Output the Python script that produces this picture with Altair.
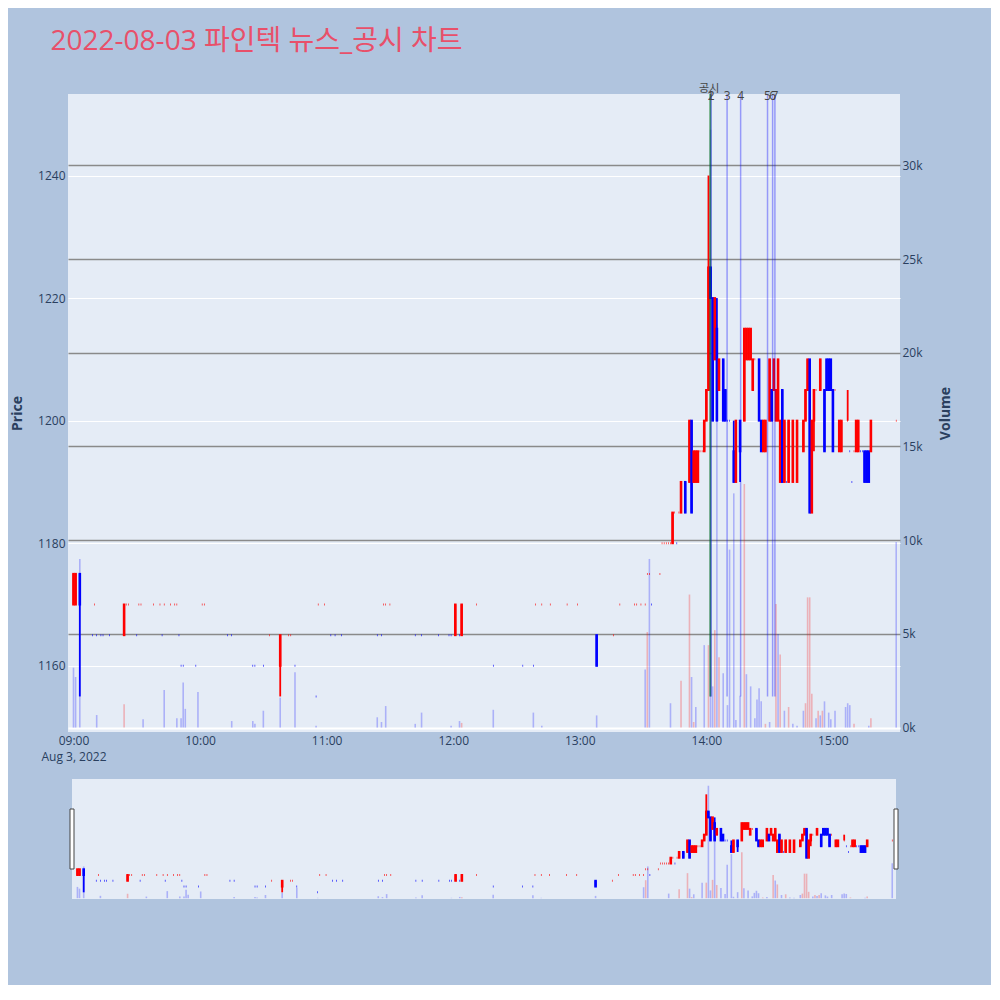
import altair as alt
import pandas as pd

DAY = "2022-08-03"

# ---------------- candles (1-minute) ----------------
c_time = ["09:00","09:01","09:03","09:09","09:10","09:11","09:13","09:14","09:17","09:24",
          "09:25","09:26","09:30","09:31","09:32","09:38","09:41","09:42","09:43","09:46",
          "09:48","09:49","09:50","09:51","09:52","09:58","10:01","10:02","10:13","10:15",
          "10:25","10:26","10:30","10:33","10:38","10:42","10:43","10:45","10:55","10:56",
          "10:59","11:02","11:04","11:07","11:24","11:26","11:27","11:28","11:30","11:42",
          "11:45","11:53","11:58","11:59","12:01","12:03","12:04","12:11","12:19","12:33",
          "12:38","12:39","12:42","12:46","12:54","12:59","13:08","13:16","13:19","13:26",
          "13:27","13:29","13:31","13:32","13:33","13:34","13:38","13:39","13:40","13:41",
          "13:42","13:43","13:44","13:45","13:46","13:47","13:48","13:50","13:52","13:53",
          "13:54","13:55","13:56","13:57","13:58","13:59","14:00","14:01","14:02","14:03",
          "14:04","14:05","14:06","14:08","14:09","14:10","14:11","14:13","14:14","14:16",
          "14:18","14:19","14:20","14:21","14:22","14:23","14:25","14:26","14:27","14:28",
          "14:30","14:31","14:32","14:33","14:34","14:35","14:36","14:37","14:38","14:39",
          "14:41","14:43","14:46","14:47","14:48","14:49","14:50","14:51","14:52","14:54",
          "14:56","14:57","14:58","14:59","15:00","15:01","15:03","15:04","15:07","15:08",
          "15:09","15:10","15:11","15:12","15:13","15:14","15:15","15:16","15:17","15:18",
          "15:30"]
c_open = [1170,1170,1175,1165,1170,1165,1165,1165,1165,1165,
          1170,1170,1165,1170,1170,1170,1170,1165,1170,1170,
          1170,1170,1165,1160,1160,1160,1170,1170,1165,1165,
          1160,1160,1160,1165,1160,1165,1165,1160,1155,1170,
          1170,1165,1165,1165,1165,1165,1170,1170,1170,1165,
          1165,1165,1165,1165,1165,1165,1165,1170,1160,1160,
          1160,1170,1170,1170,1170,1170,1165,1165,1170,1170,
          1170,1170,1170,1175,1175,1170,1175,1180,1180,1180,
          1180,1180,1180,1185,1180,1185,1185,1190,1190,1200,
          1190,1190,1190,1195,1195,1195,1200,1205,1225,1220,
          1210,1215,1205,1210,1205,1200,1200,1195,1190,1200,
          1200,1210,1210,1210,1205,1210,1210,1200,1195,1195,
          1200,1205,1205,1200,1200,1190,1205,1190,1190,1190,
          1190,1190,1195,1200,1205,1210,1185,1200,1205,1205,
          1205,1210,1210,1210,1205,1205,1195,1195,1200,1195,
          1190,1195,1195,1195,1195,1195,1195,1195,1195,1195,
          1200]
c_high = [1175,1175,1175,1165,1170,1165,1165,1165,1165,1170,
          1170,1170,1165,1170,1170,1170,1170,1165,1170,1170,
          1170,1170,1165,1160,1160,1160,1170,1170,1165,1165,
          1160,1160,1160,1165,1165,1165,1165,1160,1155,1170,
          1170,1165,1165,1165,1165,1165,1170,1170,1170,1165,
          1165,1165,1165,1165,1170,1165,1170,1170,1160,1160,
          1160,1170,1170,1170,1170,1170,1165,1165,1170,1170,
          1170,1170,1170,1175,1175,1170,1175,1180,1180,1180,
          1180,1180,1185,1185,1180,1185,1190,1190,1200,1200,
          1195,1195,1195,1195,1195,1200,1205,1240,1225,1220,
          1220,1220,1210,1210,1205,1200,1200,1200,1200,1200,
          1215,1215,1215,1215,1210,1210,1210,1200,1200,1200,
          1210,1205,1210,1205,1210,1200,1205,1200,1190,1200,
          1200,1200,1200,1205,1210,1210,1200,1205,1205,1210,
          1205,1210,1210,1210,1205,1205,1200,1200,1205,1195,
          1190,1195,1200,1200,1195,1195,1195,1195,1195,1200,
          1200]
c_low = [1170,1170,1155,1165,1170,1165,1165,1165,1165,1165,
         1170,1170,1165,1170,1170,1170,1170,1165,1170,1170,
         1170,1170,1165,1160,1160,1160,1170,1170,1165,1165,
         1160,1160,1160,1165,1155,1165,1165,1160,1155,1170,
         1170,1165,1165,1165,1165,1165,1170,1170,1170,1165,
         1165,1165,1165,1165,1165,1165,1165,1170,1160,1160,
         1160,1170,1170,1170,1170,1170,1160,1165,1170,1170,
         1170,1170,1170,1175,1175,1170,1175,1180,1180,1180,
         1180,1180,1180,1185,1180,1185,1185,1185,1190,1185,
         1190,1190,1190,1195,1195,1195,1200,1205,1220,1200,
         1210,1200,1205,1200,1200,1200,1200,1190,1190,1190,
         1200,1210,1210,1210,1205,1210,1200,1195,1195,1195,
         1200,1200,1205,1200,1200,1190,1190,1190,1190,1190,
         1190,1190,1195,1200,1205,1185,1185,1195,1205,1205,
         1195,1205,1205,1205,1195,1205,1195,1195,1200,1195,
         1190,1195,1195,1195,1195,1195,1190,1190,1190,1195,
         1200]
c_close = [1175,1175,1170,1165,1170,1165,1165,1165,1165,1170,
           1170,1170,1165,1170,1170,1170,1170,1165,1170,1170,
           1170,1170,1165,1160,1160,1160,1170,1170,1165,1165,
           1160,1160,1160,1165,1165,1165,1165,1160,1155,1170,
           1170,1165,1165,1165,1165,1165,1170,1170,1170,1165,
           1165,1165,1165,1165,1170,1165,1170,1170,1160,1160,
           1160,1170,1170,1170,1170,1170,1160,1165,1170,1170,
           1170,1170,1170,1175,1175,1170,1175,1180,1180,1180,
           1180,1180,1185,1185,1180,1185,1190,1185,1200,1185,
           1195,1195,1195,1195,1195,1200,1205,1225,1220,1200,
           1220,1200,1210,1200,1200,1200,1200,1190,1200,1195,
           1215,1215,1215,1215,1210,1210,1200,1195,1200,1200,
           1210,1200,1210,1205,1210,1200,1190,1200,1190,1200,
           1200,1200,1200,1205,1210,1185,1200,1205,1205,1210,
           1195,1205,1205,1205,1195,1205,1200,1200,1200,1195,
           1190,1195,1200,1200,1195,1195,1190,1190,1190,1200,
           1200]

# ---------------- volume ----------------
v_time = ["09:00","09:01","09:03","09:11","09:24","09:33","09:43","09:49","09:51","09:52",
          "09:53","09:59","10:15","10:25","10:26","10:30","10:38","10:45","10:55","11:24",
          "11:26","11:28","11:42","11:45","11:59","12:03","12:04","12:19","12:38","12:42",
          "13:08","13:31","13:32","13:33","13:43","13:48","13:52","13:53","13:54","13:55",
          "13:59","14:01","14:02","14:03","14:04","14:05","14:06","14:08","14:10","14:11",
          "14:13","14:14","14:16","14:18","14:19","14:21","14:23","14:24","14:25","14:26",
          "14:28","14:30","14:33","14:34","14:35","14:37","14:39","14:41","14:43","14:46",
          "14:47","14:48","14:49","14:50","14:52","14:53","14:54","14:55","14:56","14:58",
          "14:59","15:01","15:06","15:07","15:08","15:10","15:17","15:18","15:30"]
v_vol = [3200,2700,9000,670,1250,450,2000,500,500,2400,
         1000,1900,350,350,200,900,1600,2950,100,550,
         300,1150,200,800,100,350,250,950,800,100,
         650,3100,5100,9000,1300,2500,7100,2700,300,1100,
         4400,4400,31900,2200,5200,21500,3750,2900,1200,9500,
         12500,400,1700,13000,2850,2200,500,1500,2100,1400,
         200,300,6600,5000,3900,900,1100,200,100,900,
         1300,6950,6950,1800,500,900,650,900,1400,800,
         450,900,1100,1300,1200,200,100,500,9900]
v_side = ["b","b","b","b","r","b","b","b","b","b",
          "b","b","b","b","b","b","b","b","b","b",
          "b","b","b","b","b","b","r","b","b","b",
          "b","b","r","b","b","r","r","b","r","b",
          "b","r","b","b","r","b","r","b","b","b",
          "b","b","b","r","b","b","b","b","b","b",
          "r","b","r","b","r","b","r","b","b","b",
          "r","r","r","r","b","r","b","r","b","b",
          "b","b","b","b","b","r","b","r","b"]

# ---------------- news / disclosure markers ----------------
news_time = ["14:02:00","14:02:15","14:09:50","14:16:15","14:29:00","14:31:25","14:32:30"]
news_label = ["1","2","3","4","5","6","7"]
disc_time = ["14:01:50"]
disc_label = ["공시"]

price_ticks = [1160, 1180, 1200, 1220, 1240]
vol_ticks = [0, 5000, 10000, 15000, 20000, 25000, 30000]


def ts(t):
    if len(t) == 5:
        t = t + ":00"
    return f"{DAY}T{t}"


# plotly-style increasing/decreasing direction
dirs = []
prev_c = None
inc = True
for o, c in zip(c_open, c_close):
    if c > o:
        inc = True
    elif c < o:
        inc = False
    elif prev_c is not None and c != prev_c:
        inc = c > prev_c
    prev_c = c
    dirs.append("up" if inc else "down")

candles = pd.DataFrame({"t": [ts(x) for x in c_time], "o": c_open, "h": c_high,
                        "l": c_low, "c": c_close, "d": dirs})
volume = pd.DataFrame({"t": [ts(x) for x in v_time], "v": v_vol, "s": v_side})
news = pd.DataFrame({"t": [ts(x) for x in news_time], "lab": news_label})
disc = pd.DataFrame({"t": [ts(x) for x in disc_time], "lab": disc_label})

W, H = 832, 638
SH = 120
X0 = alt.DateTime(year=2022, month=8, date=3, hours=8, minutes=57, seconds=24)
X1 = alt.DateTime(year=2022, month=8, date=3, hours=15, minutes=31, seconds=48)
P_DOM = [1149.2, 1253.3]
V_DOM = [-235, 33810]
LOW_MIN = min(c_low)

dir_scale = alt.Scale(domain=["up", "down"], range=["#ff0000", "#0000ff"])
side_scale = alt.Scale(domain=["r", "b"], range=["#ff0000", "#0000ff"])

hours = [alt.DateTime(year=2022, month=8, date=3, hours=h) for h in range(9, 16)]
x_axis = alt.Axis(values=hours, grid=False, labelPadding=3, labelLineHeight=16,
                  labelExpr="hours(datum.value) == 9 ? ['09:00', 'Aug 3, 2022'] : timeFormat(datum.value, '%H:%M')",
                  title=None, labelOverlap=False, labelFlush=False)
price_axis = alt.Axis(values=price_ticks, format="d", grid=True, gridColor="#ffffff", gridWidth=1,
                      title="Price", titleFontWeight="bold", titleFontSize=14,
                      labelPadding=3, titlePadding=13)
vol_axis = alt.Axis(orient="right", values=vol_ticks, format="~s", grid=True,
                    gridColor=alt.condition("datum.value == 0", alt.value("#ffffff"), alt.value("#8a8a8a")),
                    gridWidth=alt.condition("datum.value == 0", alt.value(2), alt.value(1.3)),
                    title="Volume", titleFontWeight="bold", titleFontSize=14, titleAngle=270,
                    labelPadding=2, titlePadding=30)


def xenc(main=True):
    if main:
        return alt.X("t:T", scale=alt.Scale(domain=[X0, X1], padding=0), axis=x_axis)
    return alt.X("t:T", scale=alt.Scale(domain=[X0, X1], range=[4, W - 4], padding=0), axis=None)


def pscale():
    return alt.Scale(domain=P_DOM, nice=False, zero=False, padding=0)


def price_y(field, axis):
    return alt.Y(field, scale=pscale(), axis=axis)


def build(main=True):
    pa = price_axis if main else None
    va = vol_axis if main else None
    vol = alt.Chart(volume).mark_bar(size=1.6, opacity=0.25).encode(
        x=xenc(main),
        y=alt.Y("v:Q", scale=alt.Scale(domain=V_DOM, nice=False, zero=False, padding=0), axis=va),
        y2=alt.datum(0),
        color=alt.Color("s:N", scale=side_scale, legend=None),
    )
    wick = alt.Chart(candles).mark_rule(strokeWidth=1.8).encode(
        x=xenc(main), y=price_y("l:Q", pa), y2="h:Q",
        color=alt.Color("d:N", scale=dir_scale, legend=None),
    )
    body = alt.Chart(candles).mark_bar(size=0.6, strokeWidth=2).encode(
        x=xenc(main), y=price_y("o:Q", pa), y2="c:Q",
        fill=alt.Fill("d:N", scale=dir_scale, legend=None),
        stroke=alt.Stroke("d:N", scale=dir_scale, legend=None),
    )
    price_layers = [wick, body]
    if main:
        nl = alt.Chart(news).mark_rule(strokeWidth=1.5, color="#0000ff", opacity=0.35).encode(
            x=xenc(main),
            y=alt.Y(datum=LOW_MIN, scale=pscale(), axis=pa),
            y2=alt.value(0),
        )
        dl = alt.Chart(disc).mark_rule(strokeWidth=2, color="#008000", opacity=0.5).encode(
            x=xenc(main),
            y=alt.Y(datum=LOW_MIN, scale=pscale(), axis=pa),
            y2=alt.value(0),
        )
        nt = alt.Chart(news).mark_text(fontSize=12, font="Open Sans", color="#444444",
                                       baseline="middle").encode(
            x=xenc(main), y=alt.value(1.5), text="lab:N")
        dt = alt.Chart(disc).mark_text(fontSize=11, font="Open Sans, Noto Sans CJK KR",
                                       color="#444444", baseline="bottom", dx=-1).encode(
            x=xenc(main), y=alt.value(0), text="lab:N")
        price_layers += [nl, dl, nt, dt]
        return alt.layer(vol, alt.layer(*price_layers)).resolve_scale(y="independent").properties(
            width=W, height=H, view=alt.ViewBackground(fill="#e5ecf6", strokeWidth=0))
    # range slider
    bgdf = pd.DataFrame({"a": [ts("08:57:24")], "b": [ts("15:31:48")]})
    bg = alt.Chart(bgdf).mark_rect(color="#e5ecf6").encode(
        x=alt.X("a:T", scale=alt.Scale(domain=[X0, X1], range=[4, W - 4], padding=0), axis=None),
        x2="b:T", y=alt.value(0), y2=alt.value(SH))
    grip_df = pd.DataFrame({"t": [ts("08:57:24"), ts("15:31:48")]})
    grips = alt.Chart(grip_df).mark_bar(size=4, color="#ffffff", stroke="#444444",
                                        strokeWidth=1).encode(
        x=xenc(False), y=alt.value(30), y2=alt.value(90))
    return alt.layer(bg, vol, alt.layer(*price_layers), grips).resolve_scale(
        y="independent").properties(width=W, height=SH)


main = build(True)
slider = build(False)

chart = alt.vconcat(main, slider, spacing=47, bounds="flush").resolve_scale(
    x="independent", y="independent"
).properties(
    title=alt.TitleParams("2022-08-03 파인텍 뉴스_공시 차트", anchor="start", fontSize=28,
                          font="Open Sans, Noto Sans CJK KR", color="#e8506a",
                          fontWeight="normal", dx=40, offset=27),
    padding={"left": 2, "top": 20, "right": 38, "bottom": 86},
    background="#b0c4de",
).configure_view(strokeWidth=0).configure_scale(continuousPadding=0).configure_axis(
    domain=False, ticks=False, labelFont="Open Sans", titleFont="Open Sans",
    labelFontSize=12, labelColor="#2a3f5f", titleColor="#2a3f5f"
)

chart.save("out.html", embed_options={"renderer": "svg", "actions": False})
